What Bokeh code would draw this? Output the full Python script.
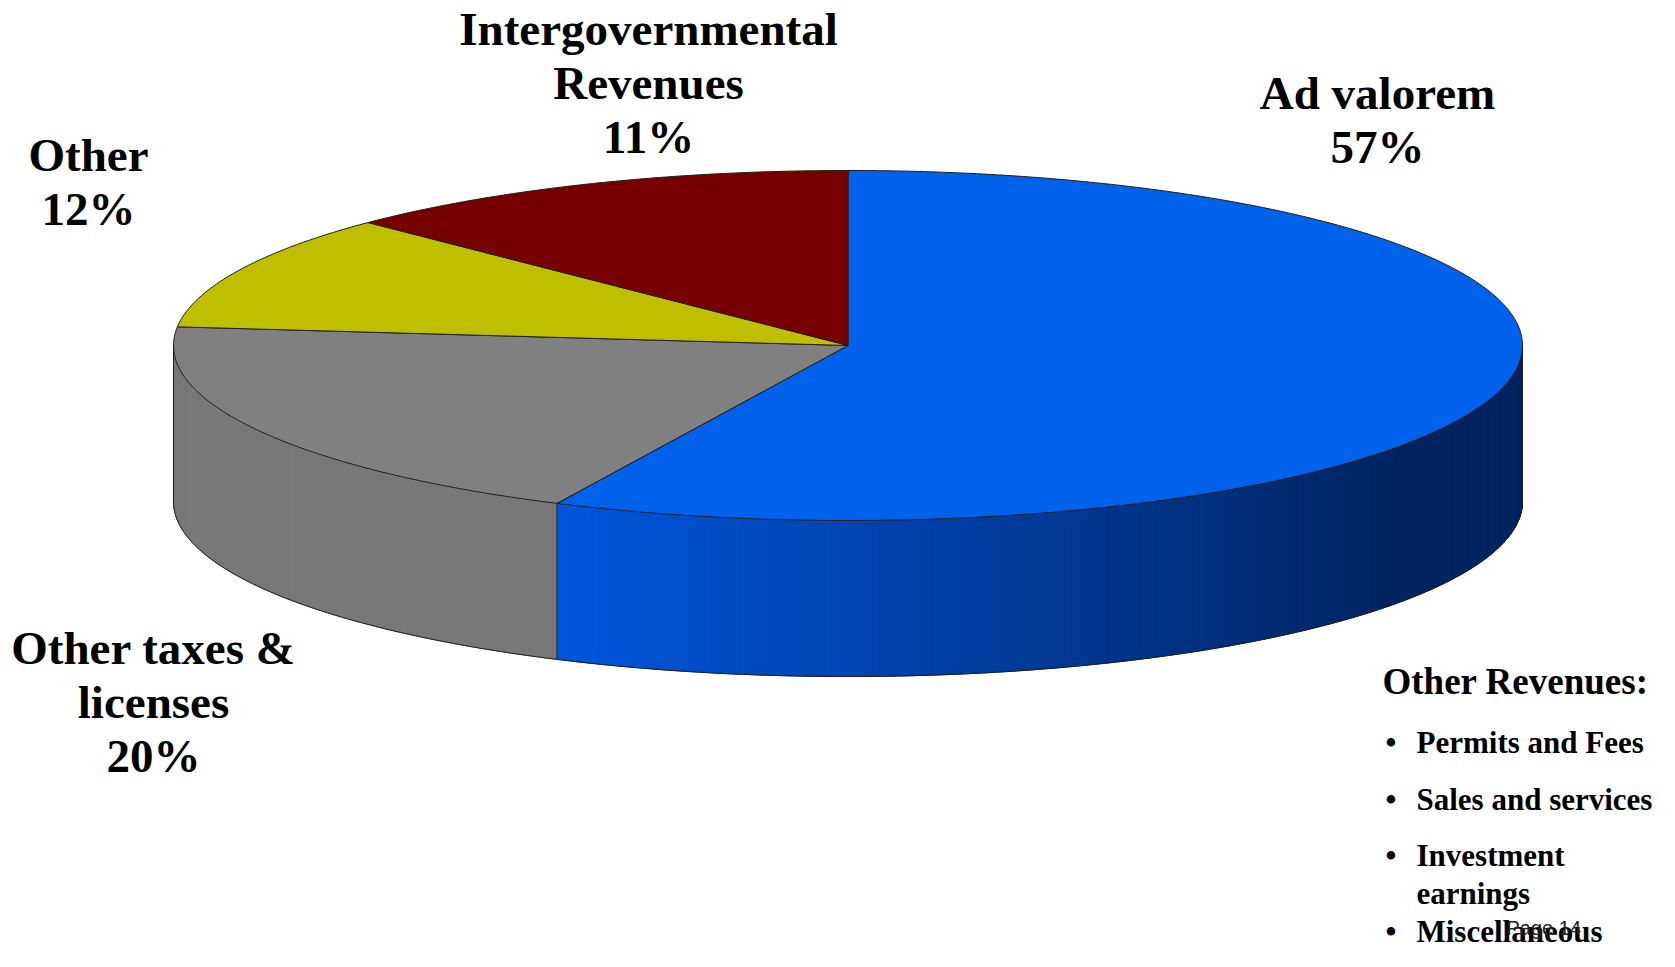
import numpy as np
from bokeh.plotting import figure
from bokeh.models import Range1d, ColumnDataSource
from bokeh.core.properties import value
from bokeh.embed import file_html
from bokeh.resources import INLINE

# ---------------- data ----------------
categories = ["Ad valorem", "Other taxes & licenses", "Other", "Intergovernmental Revenues"]
shares = [57.1, 19.6, 10.7, 12.6]            # slice sizes as drawn in the picture
share_labels = ["57%", "20%", "12%", "11%"]  # percentages printed on the chart
label_lines = [["Ad valorem"], ["Other taxes &", "licenses"], ["Other"],
               ["Intergovernmental", "Revenues"]]
top_colors = ["#0062EA", "#808080", "#BFBF00", "#760000"]
side_light = [(0, 86, 222), (120, 120, 120), (170, 170, 0), (100, 0, 0)]
side_dark = [(0, 36, 96), (116, 116, 116), (150, 150, 0), (90, 0, 0)]

box_title = "Other Revenues:"
box_items = [["Permits and Fees"], ["Sales and services"], ["Investment", "earnings"],
             ["Miscellaneous"]]
page_note = "Page 14"

# ---------------- layout ----------------
W, H = 1659, 951
CX, CY, RX, RY, DEPTH = 847.5, 345.0, 674.5, 175.0, 156.0
SHADE_X0, SHADE_X1 = 557.0, 1400.0
MID = 0.36  # baseline -> vertical middle offset, as a fraction of font size
LABEL_PX, TITLE_PX, ITEM_PX, NOTE_PX = 47, 37, 31, 20
label_x = [1377, 153, 88, 648]
label_y0 = [109, 664, 171, 45]   # first-line baselines
label_step = 54
box_x, box_title_y = 1382, 694
bullet_x, item_x = 1385, 1416
item_y = [[753], [810], [866, 904], [942]]
note_x, note_y = 1506, 935


def ell(theta_deg, dy=0.0):
    t = np.radians(theta_deg)
    return CX + RX * np.cos(t), CY - RY * np.sin(t) + dy


def mix(c0, c1, f):
    c = [int(round(a + (b - a) * f)) for a, b in zip(c0, c1)]
    return "#%02x%02x%02x" % tuple(c)


p = figure(width=W, height=H, x_range=Range1d(0, W), y_range=Range1d(H, 0),
           output_backend="svg", toolbar_location=None, min_border=0,
           x_axis_location=None, y_axis_location=None, outline_line_color=None,
           background_fill_color="white", border_fill_color="white")
p.grid.visible = False

# slice angles (start at 12 o'clock, clockwise)
starts, ends = [], []
ang = 90.0
for s in shares:
    starts.append(ang)
    ang -= s / 100.0 * 360.0
    ends.append(ang)

# ---- side walls (front half only) ----
sx, sy, sc = [], [], []
for i in range(len(shares)):
    lo = max(ends[i], -180.0)
    hi = min(starts[i], 0.0)
    if hi <= lo:
        continue
    n = max(2, int((hi - lo) / 0.5))
    th = np.linspace(lo, hi, n + 1)
    for k in range(n):
        x0, y0 = ell(th[k])
        x1, y1 = ell(th[k + 1])
        xm = 0.5 * (x0 + x1)
        f = min(1.0, max(0.0, (xm - SHADE_X0) / (SHADE_X1 - SHADE_X0)))
        sx.append([x0, x1, x1, x0])
        sy.append([y0, y1, y1 + DEPTH, y0 + DEPTH])
        sc.append(mix(side_light[i], side_dark[i], f))
p.patches(xs="xs", ys="ys", fill_color="c", line_color="c", line_width=1,
          source=ColumnDataSource(dict(xs=sx, ys=sy, c=sc)))

# ---- top faces ----
tx, ty = [], []
for i in range(len(shares)):
    n = max(8, int(abs(starts[i] - ends[i]) / 0.5))
    th = np.linspace(starts[i], ends[i], n + 1)
    ax, ay = ell(th)
    tx.append([CX] + list(ax))
    ty.append([CY] + list(ay))
p.patches(xs="xs", ys="ys", fill_color="c", line_color="#1e1e1e", line_width=1,
          source=ColumnDataSource(dict(xs=tx, ys=ty, c=top_colors)))

# ---- silhouette and wall joints ----
lx, ly = [], []
th = np.linspace(-180.0, 0.0, 361)
bx, by = ell(th, DEPTH)
lx.append([CX - RX, CX - RX] + list(bx) + [CX + RX, CX + RX])
ly.append([CY, CY + DEPTH] + list(by) + [CY + DEPTH, CY])
for e in ends:
    if -180.0 < e < 0.0:
        x0, y0 = ell(e)
        lx.append([x0, x0])
        ly.append([y0, y0 + DEPTH])
p.multi_line(xs=lx, ys=ly, line_color="#1e1e1e", line_width=1)

# ---- slice labels ----
ltx, lty, ltt = [], [], []
for i in range(len(shares)):
    lines = label_lines[i] + [share_labels[i]]
    for j, t in enumerate(lines):
        ltx.append(label_x[i])
        lty.append(label_y0[i] + j * label_step - MID * LABEL_PX)
        ltt.append(t)
p.text(x="x", y="y", text="t", source=ColumnDataSource(dict(x=ltx, y=lty, t=ltt)),
       text_font=value("Liberation Serif"), text_font_style="bold",
       text_font_size=value("%dpx" % LABEL_PX), text_align="center", text_baseline="middle",
       text_color="black")

# ---- side box ----
p.text(x=[box_x], y=[box_title_y - MID * TITLE_PX], text=[box_title],
       text_font=value("Liberation Serif"), text_font_style="bold",
       text_font_size=value("%dpx" % TITLE_PX), text_align="left", text_baseline="middle",
       text_color="black")
bxs, bys, bts, bux, buy = [], [], [], [], []
for lines, ys in zip(box_items, item_y):
    bux.append(bullet_x)
    buy.append(ys[0] - MID * ITEM_PX)
    for t, y in zip(lines, ys):
        bxs.append(item_x)
        bys.append(y - MID * ITEM_PX)
        bts.append(t)
p.text(x="x", y="y", text="t", source=ColumnDataSource(dict(x=bxs, y=bys, t=bts)),
       text_font=value("Liberation Serif"), text_font_style="bold",
       text_font_size=value("%dpx" % ITEM_PX), text_align="left", text_baseline="middle",
       text_color="black")
p.text(x=bux, y=buy, text=["\u2022"] * len(bux),
       text_font=value("Liberation Serif"), text_font_style="bold",
       text_font_size=value("%dpx" % ITEM_PX), text_align="left", text_baseline="middle",
       text_color="black")
p.text(x=[note_x], y=[note_y - MID * NOTE_PX], text=[page_note],
       text_font=value("Liberation Sans"), text_font_size=value("%dpx" % NOTE_PX),
       text_align="left", text_baseline="middle", text_color="#222222")

open("out.html", "w").write(file_html(p, INLINE))
